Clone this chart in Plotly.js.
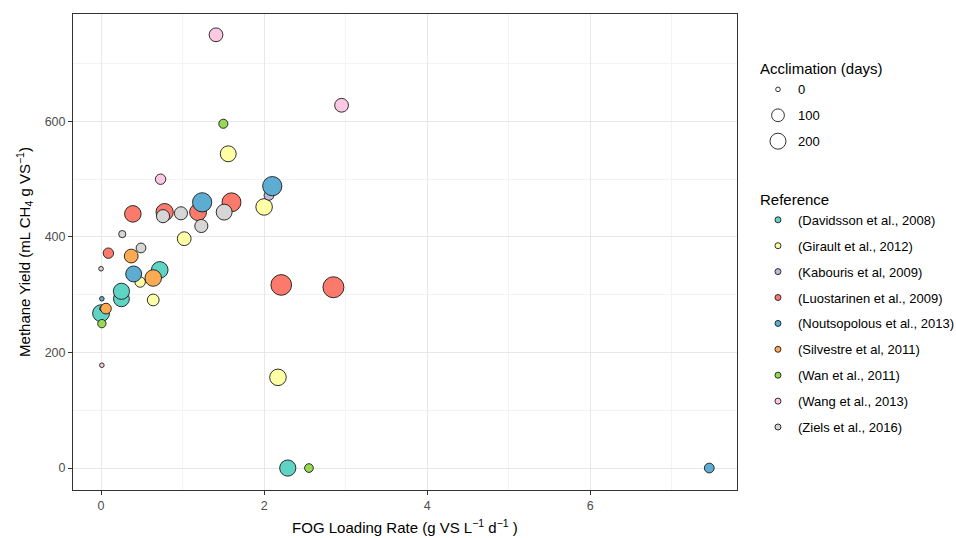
<!DOCTYPE html>
<html>
<head>
<meta charset="utf-8">
<script src="https://cdn.plot.ly/plotly-3.0.1.min.js"></script>
<style>html,body{margin:0;padding:0;background:#fff;}#chart{width:956px;height:538px;}</style>
</head>
<body>
<div id="chart"></div>
<script>
// ---- data ----
const references = [
  "(Davidsson et al., 2008)",
  "(Girault et al., 2012)",
  "(Kabouris et al, 2009)",
  "(Luostarinen et al., 2009)",
  "(Noutsopolous et al., 2013)",
  "(Silvestre et al, 2011)",
  "(Wan et al., 2011)",
  "(Wang et al., 2013)",
  "(Ziels et al., 2016)"
];
const refColors = ["#5FD3C4","#FFFFA6","#BEB9DA","#FB7A6B","#5DADD3","#FDAB53","#97D955","#FCC8E2","#D6D6D6"];

// FOG loading rate (g VS/L/d), methane yield (mL CH4/g VS), acclimation (days)
const davidssonX = [0.00, 0.25, 0.25, 0.72, 2.29];
const davidssonY = [268, 293, 306, 343, 0];
const davidssonD = [225, 190, 200, 215, 200];

const giraultX = [0.48, 0.64, 1.02, 1.56, 2.00, 2.17];
const giraultY = [322, 291, 397, 544, 452, 157];
const giraultD = [50, 77, 126, 190, 213, 213];

const kabourisX = [2.06];
const kabourisY = [472];
const kabourisD = [40];

const luostarinenX = [0.09, 0.01, 0.39, 0.78, 1.19, 1.60, 2.21, 2.85];
const luostarinenY = [372, 276, 440, 443, 443, 460, 317, 313];
const luostarinenD = [50, 0, 213, 240, 225, 306, 385, 400];

const noutsopolousX = [0.01, 0.40, 1.24, 2.10, 7.46];
const noutsopolousY = [293, 336, 460, 488, 0];
const noutsopolousD = [0, 190, 320, 320, 40];

const silvestreX = [0.06, 0.37, 0.64];
const silvestreY = [276, 367, 329];
const silvestreD = [56, 126, 213];

const wanX = [0.01, 1.50, 2.55];
const wanY = [250, 596, 0];
const wanD = [21, 30, 25];

const wangX = [0.01, 0.73, 1.41, 2.95];
const wangY = [178, 500, 750, 628];
const wangD = [0, 50, 126, 126];

const zielsX = [0.00, 0.26, 0.49, 0.76, 0.98, 1.23, 1.51];
const zielsY = [345, 405, 381, 436, 441, 419, 443];
const zielsD = [0, 10, 40, 108, 108, 108, 190];

const acclimationBreaks = [0, 100, 200];
const xTicks = [0, 2, 4, 6];
const yTicks = [0, 200, 400, 600];

// ---- build ----
const seriesX = [davidssonX, giraultX, kabourisX, luostarinenX, noutsopolousX, silvestreX, wanX, wangX, zielsX];
const seriesY = [davidssonY, giraultY, kabourisY, luostarinenY, noutsopolousY, silvestreY, wanY, wangY, zielsY];
const seriesD = [davidssonD, giraultD, kabourisD, luostarinenD, noutsopolousD, silvestreD, wanD, wangD, zielsD];

// size scale: diameter grows with sqrt(days)
function sizeScale(d) { return 4.6 + 0.82 * Math.sqrt(d); }

const traces = [];
references.forEach((ref, i) => {
  traces.push({
    type: "scatter", mode: "markers",
    x: seriesX[i], y: seriesY[i],
    name: ref, legendgroup: "g" + i, showlegend: false,
    marker: {color: refColors[i], size: seriesD[i].map(sizeScale),
             line: {color: "#1a1a1a", width: 0.9}, opacity: 1},
    hoverinfo: "x+y+name"
  });
});
// reference legend entries
references.forEach((ref, i) => {
  traces.push({
    type: "scatter", mode: "markers",
    x: [null], y: [null],
    name: ref, legendgroup: "g" + i, showlegend: true, legend: "legend2",
    marker: {color: refColors[i], size: 6, line: {color: "#1a1a1a", width: 0.9}}
  });
});
// acclimation size legend
acclimationBreaks.forEach((b, k) => {
  traces.push({
    type: "scatter", mode: "markers",
    x: [null], y: [null],
    name: String(b), legendgroup: "s" + k, showlegend: true, legend: "legend",
    marker: {color: "rgba(255,255,255,0)", size: sizeScale(b),
             line: {color: "#1a1a1a", width: 0.9}}
  });
});

const FONT = "Liberation Sans, Arial, sans-serif";
const layout = {
  width: 956, height: 538,
  margin: {l: 73, r: 219, t: 14, b: 48, autoexpand: false},
  paper_bgcolor: "#fff", plot_bgcolor: "#fff",
  font: {family: FONT, size: 13, color: "#000"},
  xaxis: {
    range: [-0.344, 7.80], tickvals: xTicks, ticktext: xTicks.map(String),
    showgrid: true, gridcolor: "#E8E8E8", gridwidth: 1.4,
    minor: {dtick: 1, tick0: 1, showgrid: true, gridcolor: "#F3F3F3", gridwidth: 0.8, ticklen: 0},
    zeroline: false, showline: true, mirror: true, linecolor: "#333", linewidth: 1,
    ticks: "outside", ticklen: 4, tickcolor: "#333", tickwidth: 1,
    tickfont: {family: FONT, size: 12.5, color: "#4D4D4D"},
    title: {text: "FOG Loading Rate (g VS L<sup>\u22121</sup> d<sup>\u22121</sup> )",
            font: {family: FONT, size: 15, color: "#000"}, standoff: 10}
  },
  yaxis: {
    range: [-38, 786], tickvals: yTicks, ticktext: yTicks.map(String),
    showgrid: true, gridcolor: "#E8E8E8", gridwidth: 1.4,
    minor: {dtick: 100, tick0: 100, showgrid: true, gridcolor: "#F3F3F3", gridwidth: 0.8, ticklen: 0},
    zeroline: false, showline: true, mirror: true, linecolor: "#333", linewidth: 1,
    ticks: "outside", ticklen: 4, tickcolor: "#333", tickwidth: 1,
    tickfont: {family: FONT, size: 12.5, color: "#4D4D4D"},
    title: {text: "Methane Yield (mL CH<sub>4</sub> g VS<sup>\u22121</sup>)",
            font: {family: FONT, size: 15, color: "#000"}, standoff: 10}
  },
  legend: {
    title: {text: "Acclimation (days)", font: {family: FONT, size: 15, color: "#000"}},
    x: 1.0316, xanchor: "left", y: 0.914, yanchor: "top",
    font: {family: FONT, size: 13, color: "#000"},
    itemsizing: "trace", tracegroupgap: 6, bgcolor: "rgba(0,0,0,0)",
    itemclick: false, itemdoubleclick: false
  },
  legend2: {
    title: {text: "Reference", font: {family: FONT, size: 15, color: "#000"}},
    x: 1.0316, xanchor: "left", y: 0.640, yanchor: "top",
    font: {family: FONT, size: 13, color: "#000"},
    itemsizing: "trace", tracegroupgap: 6, bgcolor: "rgba(0,0,0,0)"
  },
  showlegend: true
};

Plotly.newPlot("chart", traces, layout, {displayModeBar: false});
</script>
</body>
</html>
